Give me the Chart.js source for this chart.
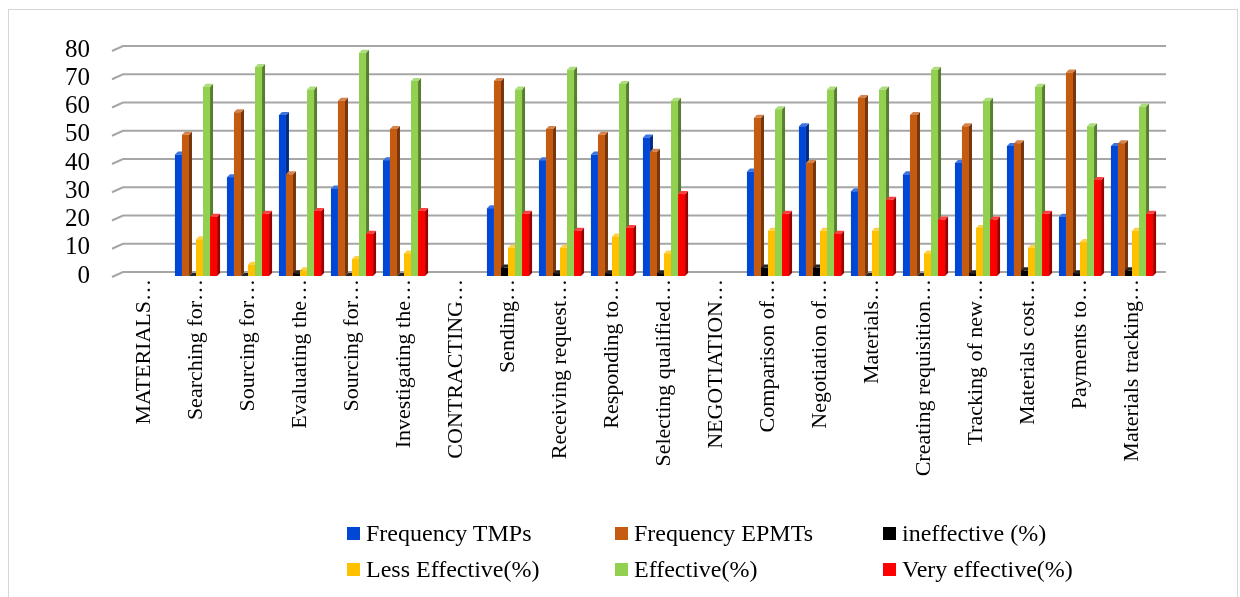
<!DOCTYPE html>
<html>
<head>
<meta charset="utf-8">
<script src="https://cdn.jsdelivr.net/npm/chart.js@4.4.1/dist/chart.umd.min.js"></script>
<style>
  html, body { margin: 0; padding: 0; background: #ffffff; }
  #wrap { position: relative; width: 1240px; height: 597px; overflow: hidden; }
  #frame { position: absolute; left: 8px; top: 9px; width: 1230px; height: 600px;
           border: 1px solid #d6d6d6; box-sizing: border-box; }
  #chart { position: absolute; left: 0; top: 0; }
  #legend { position: absolute; left: 0; top: 0; width: 1240px; height: 597px;
            font-family: 'Liberation Serif', 'Times New Roman', serif; font-size: 24px; color: #000; }
  .item { position: absolute; display: flex; align-items: center; white-space: nowrap; line-height: 28px; }
  .box { width: 13px; height: 13px; margin-right: 6px; flex: none; }
</style>
</head>
<body>
<div id="wrap">
  <div id="frame"></div>
  <canvas id="chart" width="1240" height="597"></canvas>
  <div id="legend"></div>
</div>
<script>
// Procurement activities (section headings have no values)
const categories = [
  'MATERIALS…', 'Searching for…', 'Sourcing for…', 'Evaluating the…', 'Sourcing for…',
  'Investigating the…', 'CONTRACTING…', 'Sending…', 'Receiving request…', 'Responding to…',
  'Selecting qualified…', 'NEGOTIATION…', 'Comparison of…', 'Negotiation of…', 'Materials…',
  'Creating requisition…', 'Tracking of new…', 'Materials cost…', 'Payments to…', 'Materials tracking…'
];

const frequencyTMPs   = [null, 43, 35, 57, 31, 41, null, 24, 41, 43, 49, null, 37, 53, 30, 36, 40, 46, 21, 46];
const frequencyEPMTs  = [null, 50, 58, 36, 62, 52, null, 69, 52, 50, 44, null, 56, 40, 63, 57, 53, 47, 72, 47];
const ineffective     = [null, 0, 0, 1, 0, 0, null, 3, 1, 1, 1, null, 3, 3, 0, 0, 1, 2, 1, 2];
const lessEffective   = [null, 13, 4, 2, 6, 8, null, 10, 10, 14, 8, null, 16, 16, 16, 8, 17, 10, 12, 16];
const effective       = [null, 67, 74, 66, 79, 69, null, 66, 73, 68, 62, null, 59, 66, 66, 73, 62, 67, 53, 60];
const veryEffective   = [null, 21, 22, 23, 15, 23, null, 22, 16, 17, 29, null, 22, 15, 27, 20, 20, 22, 34, 22];

const yTicks = [0, 10, 20, 30, 40, 50, 60, 70, 80];

const seriesNames  = ['Frequency TMPs', 'Frequency EPMTs', 'ineffective (%)',
                      'Less Effective(%)', 'Effective(%)', 'Very effective(%)'];
const seriesColors = ['#0047d6', '#c55a11', '#000000', '#ffc000', '#92d050', '#ff0000'];
const seriesData   = [frequencyTMPs, frequencyEPMTs, ineffective, lessEffective, effective, veryEffective];

const SERIF = "'Liberation Serif', 'Times New Roman', serif";
const DEPTH_X = 3, DEPTH_Y = 3;

function shade(hex, f) {
  const n = parseInt(hex.slice(1), 16);
  let r = (n >> 16) & 255, g = (n >> 8) & 255, b = n & 255;
  if (f < 0) { r *= 1 + f; g *= 1 + f; b *= 1 + f; }
  else { r += (255 - r) * f; g += (255 - g) * f; b += (255 - b) * f; }
  return `rgb(${Math.round(r)},${Math.round(g)},${Math.round(b)})`;
}

// Back-wall gridlines with the slanted floor edge on the left
const wallGrid = {
  id: 'wallGrid',
  beforeDatasetsDraw(chart) {
    const { ctx, chartArea, scales } = chart;
    ctx.save();
    ctx.strokeStyle = '#a6a6a6';
    ctx.lineWidth = 2;
    yTicks.forEach(v => {
      const y = scales.y.getPixelForValue(v);
      ctx.beginPath();
      ctx.moveTo(chartArea.left - 6, y + 1);
      ctx.lineTo(chartArea.left + 5, y - 4);
      ctx.lineTo(chartArea.right + 8, y - 4);
      ctx.stroke();
    });
    ctx.restore();
  }
};

// Side and top faces that give each column its depth; the fronts are drawn by Chart.js over them
const columnDepth = {
  id: 'columnDepth',
  beforeDatasetsDraw(chart) {
    const { ctx } = chart;
    ctx.save();
    chart.data.datasets.forEach((ds, di) => {
      const meta = chart.getDatasetMeta(di);
      const base = ds.backgroundColor;
      meta.data.forEach((bar, i) => {
        if (ds.data[i] === null || ds.data[i] === undefined) return;
        const p = bar.getProps(['x', 'y', 'base', 'width'], true);
        const l = p.x - p.width / 2, r = p.x + p.width / 2;
        // side face
        ctx.fillStyle = shade(base, -0.4);
        ctx.beginPath();
        ctx.moveTo(r, p.base);
        ctx.lineTo(r + DEPTH_X, p.base - DEPTH_Y);
        ctx.lineTo(r + DEPTH_X, p.y - DEPTH_Y);
        ctx.lineTo(r, p.y);
        ctx.closePath();
        ctx.fill();
        // top face
        ctx.fillStyle = shade(base, di === 2 ? 0.15 : 0.25);
        ctx.beginPath();
        ctx.moveTo(l, p.y);
        ctx.lineTo(l + DEPTH_X, p.y - DEPTH_Y);
        ctx.lineTo(r + DEPTH_X, p.y - DEPTH_Y);
        ctx.lineTo(r, p.y);
        ctx.closePath();
        ctx.fill();
      });
    });
    ctx.restore();
  }
};

const chart = new Chart(document.getElementById('chart'), {
  type: 'bar',
  data: {
    labels: categories,
    datasets: seriesData.map((d, i) => ({
      label: seriesNames[i],
      data: d,
      backgroundColor: seriesColors[i],
      borderWidth: 0,
      categoryPercentage: 0.81,
      barPercentage: 1.0
    }))
  },
  options: {
    responsive: false,
    animation: false,
    layout: { padding: { top: 50, right: 82, left: 0, bottom: 0 } },
    plugins: { legend: { display: false }, tooltip: { enabled: false } },
    scales: {
      x: {
        grid: { display: false, drawTicks: false },
        border: { display: false },
        ticks: {
          autoSkip: false, minRotation: 90, maxRotation: 90, padding: 3,
          color: '#000', font: { family: SERIF, size: 22 }
        },
        afterFit(scale) { scale.height = 321; }
      },
      y: {
        min: 0, max: 80,
        grid: { display: false, drawTicks: false },
        border: { display: false },
        ticks: { stepSize: 10, autoSkip: false, padding: 28, color: '#000', font: { family: SERIF, size: 25 } },
        afterBuildTicks(scale) { scale.ticks = yTicks.map(v => ({ value: v })); },
        afterFit(scale) { scale.width = 118; }
      }
    }
  },
  plugins: [wallGrid, columnDepth]
});

// Legend laid out in three columns, two rows
const legendCols = [347, 615, 883];
const legendRows = [533, 569];
const legendEl = document.getElementById('legend');
chart.data.datasets.forEach((ds, i) => {
  const item = document.createElement('div');
  item.className = 'item';
  item.style.left = legendCols[i % 3] + 'px';
  item.style.top = (legendRows[Math.floor(i / 3)] - 14) + 'px';
  const box = document.createElement('span');
  box.className = 'box';
  box.style.background = ds.backgroundColor;
  const txt = document.createElement('span');
  txt.textContent = ds.label;
  item.appendChild(box);
  item.appendChild(txt);
  legendEl.appendChild(item);
});
</script>
</body>
</html>
